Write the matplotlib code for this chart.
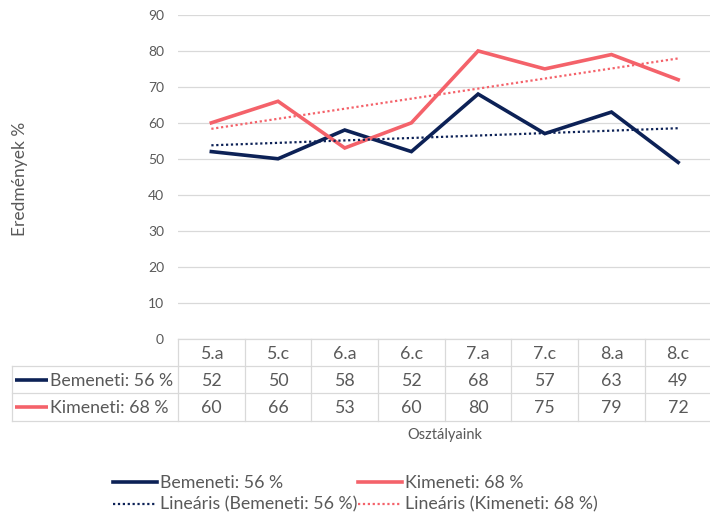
import numpy as np
import matplotlib.pyplot as plt
from matplotlib.lines import Line2D

plt.rcParams['font.family'] = ['Lato', 'DejaVu Sans']

# adatok
osztalyok = ["5.a", "5.c", "6.a", "6.c", "7.a", "7.c", "8.a", "8.c"]
bemeneti = [52, 50, 58, 52, 68, 57, 63, 49]
kimeneti = [60, 66, 53, 60, 80, 75, 79, 72]
nev_be = "Bemeneti: 56 %"
nev_ki = "Kimeneti: 68 %"

szin_be = "#0c2156"
szin_ki = "#f4626a"
racs = "#d9d9d9"
szurke = "#595959"
fs = 12.8

W, H = 710, 521
fig = plt.figure(figsize=(W / 100, H / 100), dpi=100)

def px(x0, y0, x1, y1):
    # pixel doboz -> figure koordinata
    return [x0 / W, 1 - y1 / H, (x1 - x0) / W, (y1 - y0) / H]

x = np.arange(len(osztalyok))

# grafikon
ax = fig.add_axes(px(178, 15, 711.5, 338.5))
ax.plot(x, bemeneti, color=szin_be, lw=2.6, solid_joinstyle="miter")
ax.plot(x, kimeneti, color=szin_ki, lw=2.6, solid_joinstyle="miter")

# linearis trendvonalak
t = x + 1
p_be = np.polyfit(t, bemeneti, 1)
p_ki = np.polyfit(t, kimeneti, 1)
ax.plot(x, np.polyval(p_be, t), color=szin_be, lw=1.6, ls=(0, (1, 1.2)))
ax.plot(x, np.polyval(p_ki, t), color=szin_ki, lw=1.6, ls=(0, (1, 1.2)))

ax.set_xlim(-0.5, len(osztalyok) - 0.5)
ax.set_ylim(0, 90)
ax.set_yticks(range(0, 91, 10))
ax.set_xticks([])
for s in ax.spines.values():
    s.set_visible(False)
ax.tick_params(axis="y", length=0, pad=10, labelsize=10, labelcolor=szurke)
ax.grid(axis="y", color=racs, lw=0.9)
ax.set_axisbelow(True)
fig.text(20 / W, 1 - 179 / H, "Eredmények %", rotation=90, ha="center",
         va="center", fontsize=12.5, color=szurke)

# adattabla
bal = 12
tax = fig.add_axes(px(bal, 339, 711.5, 420.5))
x_bal = -0.5 - (178 - bal) / ((711.5 - 178) / len(osztalyok))
tax.set_xlim(x_bal, len(osztalyok) - 0.5)
tax.set_ylim(0, 3)
tax.axis("off")
xr = len(osztalyok) - 0.5
kw = dict(color=racs, lw=0.9, clip_on=False)
tax.plot([-0.5, xr], [3, 3], **kw)
for yy in [2, 1, 0]:
    tax.plot([x_bal, xr], [yy, yy], **kw)
for xx in np.arange(-0.5, len(osztalyok)):
    tax.plot([xx, xx], [0, 3], **kw)
tax.plot([x_bal, x_bal], [0, 2], **kw)

for i, o in enumerate(osztalyok):
    tax.text(i, 2.45, o, ha="center", va="center", fontsize=fs, color=szurke)
    tax.text(i, 1.45, str(bemeneti[i]), ha="center", va="center", fontsize=fs, color=szurke)
    tax.text(i, 0.45, str(kimeneti[i]), ha="center", va="center", fontsize=fs, color=szurke)

w = 711.5 - bal
for yy, nev, c in [(1.5, nev_be, szin_be), (0.5, nev_ki, szin_ki)]:
    tax.plot([(15 - bal) / w, (48 - bal) / w], [yy / 3, yy / 3], color=c, lw=2.6,
             transform=tax.transAxes, solid_capstyle="butt")
    tax.text((50 - bal) / w, (yy - 0.05) / 3, nev, transform=tax.transAxes,
             ha="left", va="center", fontsize=fs, color=szurke)

fig.text(445 / W, 1 - 435 / H, "Osztályaink", ha="center", va="center",
         fontsize=10.5, color=szurke)

# jelmagyarazat
h = [Line2D([], [], color=szin_be, lw=2.6),
     Line2D([], [], color=szin_be, lw=1.6, ls=(0, (1, 1.2))),
     Line2D([], [], color=szin_ki, lw=2.6),
     Line2D([], [], color=szin_ki, lw=1.6, ls=(0, (1, 1.2)))]
l = [nev_be, "Lineáris (" + nev_be + ")", nev_ki, "Lineáris (" + nev_ki + ")"]
leg = fig.legend(h, l, ncol=2, loc="center left", bbox_to_anchor=(113 / W, 1 - 494 / H),
                 frameon=False, fontsize=fs, handlelength=2.45, handletextpad=0.2,
                 columnspacing=0.05, labelspacing=0.3, borderpad=0, borderaxespad=0)
for txt in leg.get_texts():
    txt.set_color(szurke)

fig.savefig("out.png", dpi=100)
